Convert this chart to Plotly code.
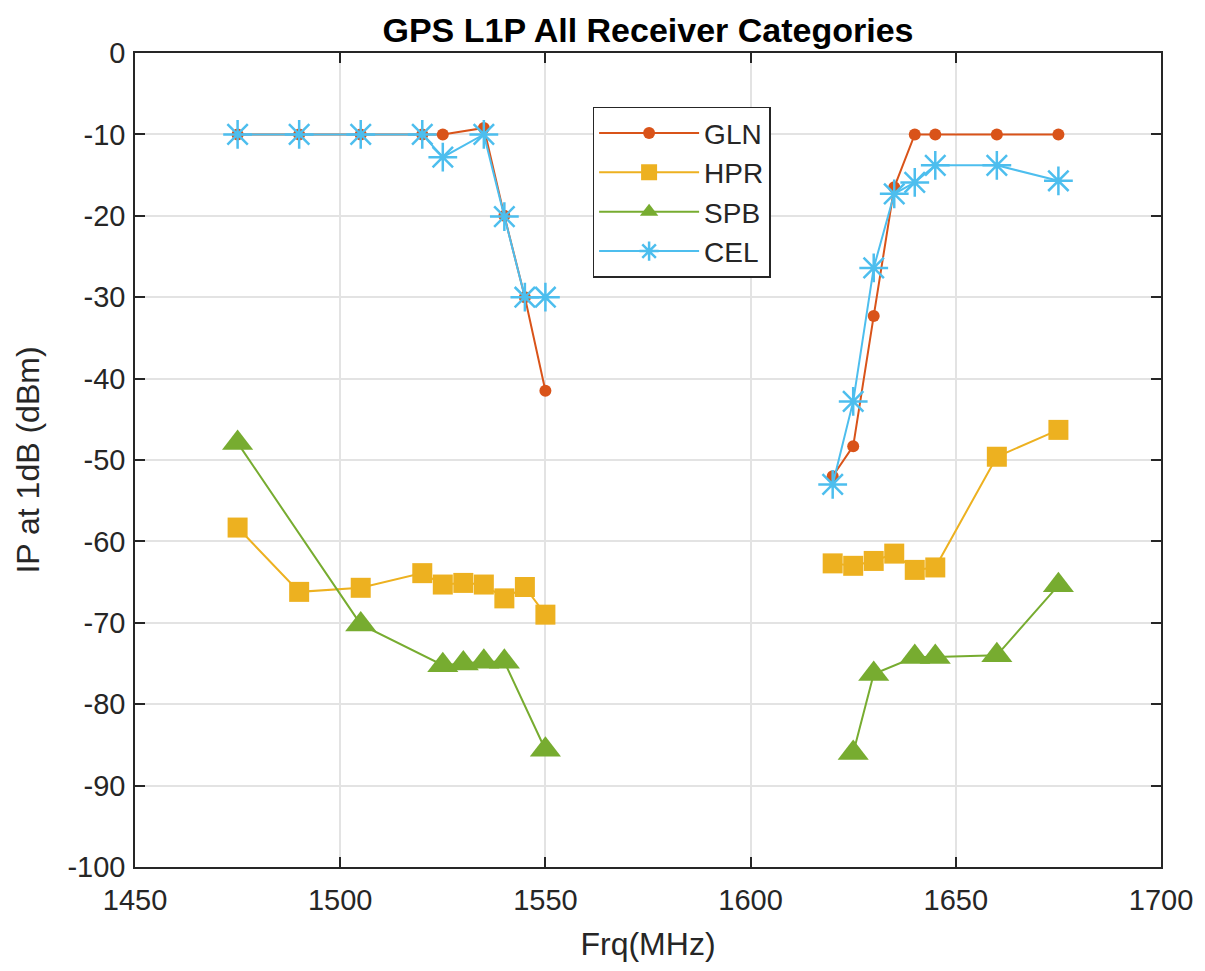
import plotly.graph_objects as go

# ---- data ----
freq_gln = [1475, 1490, 1505, 1520, 1525, 1535, 1540, 1545, 1550, None,
            1620, 1625, 1630, 1635, 1640, 1645, 1660, 1675]
ip_gln = [-10, -10, -10, -10, -10, -9.2, -20, -30, -41.5, None,
          -52, -48.3, -32.3, -16.5, -10, -10, -10, -10]

freq_hpr = [1475, 1490, 1505, 1520, 1525, 1530, 1535, 1540, 1545, 1550, None,
            1620, 1625, 1630, 1635, 1640, 1645, 1660, 1675]
ip_hpr = [-58.3, -66.2, -65.7, -63.9, -65.3, -65.1, -65.3, -67.0, -65.6, -69.0, None,
          -62.7, -63.0, -62.4, -61.5, -63.5, -63.2, -49.6, -46.3]

freq_spb = [1475, 1505, 1525, 1530, 1535, 1540, 1550, None,
            1625, 1630, 1640, 1645, 1660, 1675]
ip_spb = [-47.9, -70.2, -75.2, -75.0, -74.8, -74.8, -85.6, None,
          -86.0, -76.3, -74.2, -74.2, -74.0, -65.4]

freq_cel = [1475, 1490, 1505, 1520, 1525, 1535, 1540, 1545, 1550, None,
            1620, 1625, 1630, 1635, 1640, 1645, 1660, 1675]
ip_cel = [-10, -10, -10, -10, -12.8, -10, -20.1, -30, -30, None,
          -53, -42.8, -26.4, -17.3, -15.9, -13.8, -13.8, -15.7]

x_ticks = [1450, 1500, 1550, 1600, 1650, 1700]
x_ticktext = ["1450", "1500", "1550", "1600", "1650", "1700"]
y_ticks = [0, -10, -20, -30, -40, -50, -60, -70, -80, -90, -100]
y_ticktext = ["0", "-10", "-20", "-30", "-40", "-50", "-60", "-70", "-80", "-90", "-100"]

FONT = "Liberation Sans"
C_GLN = "#D95319"
C_HPR = "#EDB120"
C_SPB = "#77AC30"
C_CEL = "#4DBEEE"

fig = go.Figure()
fig.add_trace(go.Scatter(x=freq_gln, y=ip_gln, name="GLN", mode="lines+markers",
                         line=dict(color=C_GLN, width=2),
                         marker=dict(symbol="circle", size=12, color=C_GLN)))
fig.add_trace(go.Scatter(x=freq_hpr, y=ip_hpr, name="HPR", mode="lines+markers",
                         line=dict(color=C_HPR, width=2),
                         marker=dict(symbol="square", size=20, color=C_HPR)))
fig.add_trace(go.Scatter(x=freq_spb, y=ip_spb, name="SPB", mode="lines+markers",
                         line=dict(color=C_SPB, width=2),
                         marker=dict(symbol="triangle-up", size=27, color=C_SPB)))
fig.add_trace(go.Scatter(x=freq_cel, y=ip_cel, name="CEL", mode="lines+markers",
                         line=dict(color=C_CEL, width=2),
                         marker=dict(symbol="asterisk", size=24, color=C_CEL,
                                     line=dict(color=C_CEL, width=2.5))))

axis_common = dict(
    showline=True, linecolor="#262626", linewidth=1.5, mirror="ticks",
    ticks="inside", ticklen=10, tickwidth=1.5, tickcolor="#262626",
    showgrid=True, gridcolor="#e3e3e3", gridwidth=1.5,
    zeroline=False,
    tickfont=dict(family=FONT, size=29, color="#262626"),
)

W, H = 1197, 963
fig.update_layout(
    width=W, height=H,
    margin=dict(l=127, r=36, t=45, b=104),
    paper_bgcolor="white", plot_bgcolor="white",
    title=dict(text="<b>GPS L1P All Receiver Categories</b>",
               font=dict(family=FONT, size=34, color="black"),
               x=0.5, xanchor="center", xref="paper",
               y=1 - 22 / H, yanchor="middle"),
    xaxis=dict(range=[1450, 1700], tickvals=x_ticks, ticktext=x_ticktext,
               ticklabelstandoff=6,
               title=dict(text="Frq(MHz)", font=dict(family=FONT, size=32, color="#262626"),
                          standoff=18),
               **axis_common),
    yaxis=dict(range=[-100, 0], tickvals=y_ticks, ticktext=y_ticktext,
               ticklabelstandoff=2,
               title=dict(text="IP at 1dB (dBm)", font=dict(family=FONT, size=32, color="#262626"),
                          standoff=18),
               **axis_common),
    legend=dict(x=0.446, y=0.934, xanchor="left", yanchor="top",
                bgcolor="white", bordercolor="#262626", borderwidth=1.5,
                font=dict(family=FONT, size=28, color="#262626"),
                itemwidth=100, tracegroupgap=0),
    showlegend=True,
)

fig.write_html("out.html")
